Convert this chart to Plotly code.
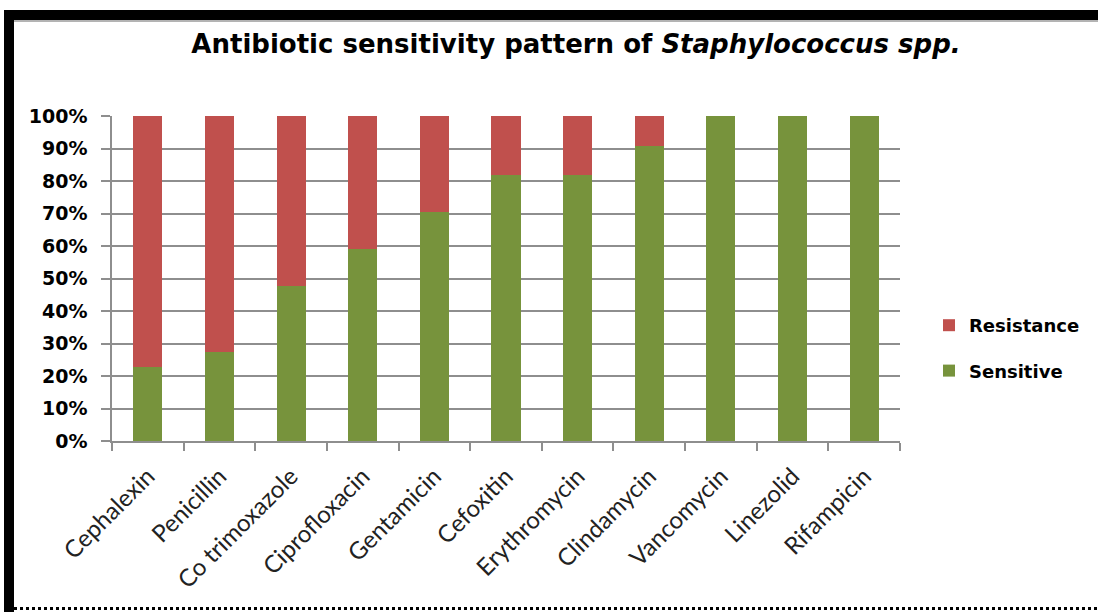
import plotly.graph_objects as go

# Antibiotic sensitivity of Staphylococcus isolates (% of isolates)
antibiotics = ["Cephalexin", "Penicillin", "Co trimoxazole", "Ciprofloxacin",
               "Gentamicin", "Cefoxitin", "Erythromycin", "Clindamycin",
               "Vancomycin", "Linezolid", "Rifampicin"]
sensitive = [22.7, 27.3, 47.7, 59.1, 70.5, 81.8, 81.8, 90.9, 100, 100, 100]
resistance = [100 - s for s in sensitive]

y_ticks = list(range(0, 101, 10))
y_tick_labels = [f"{t}%" for t in y_ticks]

W, H = 1098, 612
L, R, T, B = 112, 900, 116, 441  # plot area in pixels


def px_x(px):
    return (px - L) / (R - L)


def px_y(py):
    return (B - py) / (B - T)


fig = go.Figure()
fig.add_trace(go.Bar(x=antibiotics, y=sensitive, name="Sensitive",
                     marker=dict(color="#77933C", line=dict(width=0)),
                     legendgroup="s", legendrank=2))
fig.add_trace(go.Bar(x=antibiotics, y=resistance, name="Resistance",
                     marker=dict(color="#C0504D", line=dict(width=0)),
                     legendgroup="r", legendrank=1))

grid = "#8e8e8e"
shapes = [
    # chart frame: thick top and left edges, dotted bottom edge
    dict(type="rect", xref="paper", yref="paper", x0=px_x(4), x1=px_x(1100),
         y0=px_y(20), y1=px_y(10), fillcolor="black", line=dict(width=0), layer="above"),
    dict(type="line", xref="paper", yref="paper", x0=px_x(14), x1=px_x(1100),
         y0=px_y(21), y1=px_y(21), line=dict(color="#9a9a9a", width=1.5)),
    dict(type="rect", xref="paper", yref="paper", x0=px_x(4), x1=px_x(14),
         y0=px_y(612), y1=px_y(10), fillcolor="black", line=dict(width=0), layer="above"),
    dict(type="line", xref="paper", yref="paper", x0=px_x(14), x1=px_x(1100),
         y0=px_y(608.5), y1=px_y(608.5), line=dict(color="black", width=3, dash="dot")),
]

fig.update_layout(
    width=W, height=H,
    margin=dict(l=L, r=W - R, t=T, b=H - B, pad=0, autoexpand=False),
    paper_bgcolor="white", plot_bgcolor="white",
    barmode="stack", bargap=0.595,
    title=dict(text="<b>Antibiotic sensitivity pattern of <i>Staphylococcus spp.</i></b>",
               x=576 / W, xanchor="center", xref="container",
               y=1 - 44 / H, yanchor="middle", yref="container",
               font=dict(family="DejaVu Sans", size=26, color="black")),
    font=dict(family="DejaVu Sans", color="black"),
    legend=dict(x=px_x(929), xanchor="left", y=px_y(307), yanchor="top",
                traceorder="grouped", tracegroupgap=19,
                font=dict(family="DejaVu Sans", size=18, color="black", weight="bold"),
                bgcolor="rgba(0,0,0,0)", itemwidth=30),
    xaxis=dict(type="category", showgrid=False, showline=True, linecolor=grid,
               linewidth=1.5, ticks="outside", tickson="boundaries", ticklen=8,
               tickcolor=grid, tickwidth=1.5, tickangle=-45, ticklabelstandoff=10,
               automargin=False,
               tickfont=dict(family="Lato", size=24, color="#222")),
    yaxis=dict(range=[0, 100], tickvals=y_ticks, ticktext=y_tick_labels,
               showgrid=True, gridcolor=grid, gridwidth=1.5,
               showline=True, linecolor=grid, linewidth=1.5,
               ticks="outside", ticklen=9, tickcolor=grid, tickwidth=1.5,
               ticklabelstandoff=10, zeroline=False, automargin=False,
               tickfont=dict(family="DejaVu Sans", size=19, color="black", weight="bold")),
    shapes=shapes,
    showlegend=True,
)

fig.write_html("out.html")
